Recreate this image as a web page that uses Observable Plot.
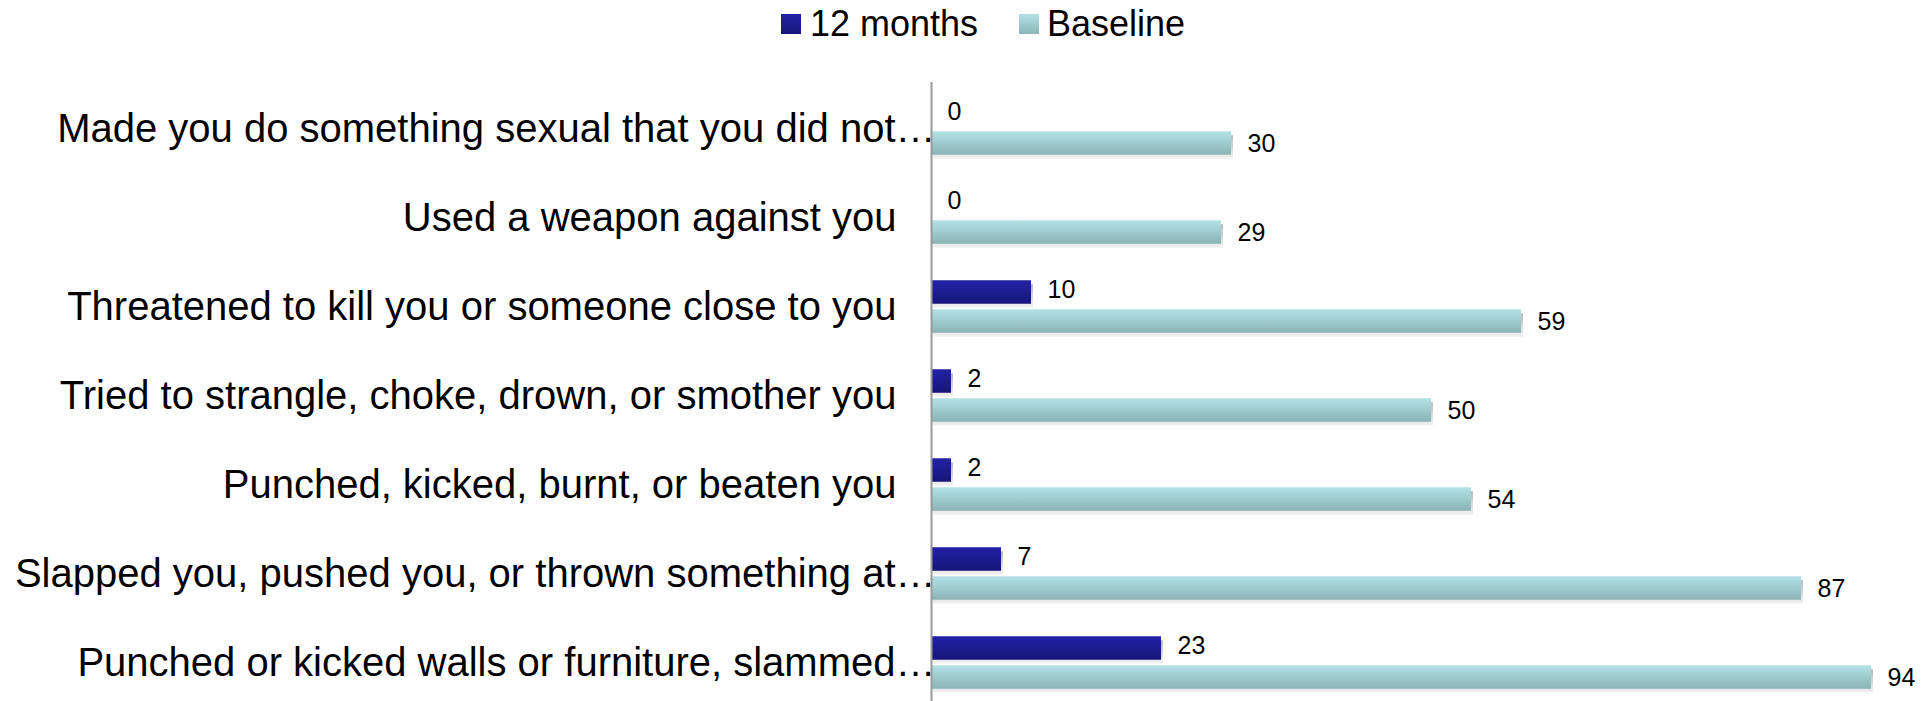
<!DOCTYPE html>
<html>
<head>
<meta charset="utf-8">
<script src="https://cdn.jsdelivr.net/npm/d3@7"></script>
<script src="https://cdn.jsdelivr.net/npm/@observablehq/plot@0.6"></script>
<style>
  html, body { margin: 0; padding: 0; background: #fff; }
  body { width: 1929px; height: 701px; overflow: hidden; font-family: "Liberation Sans", Arial, sans-serif; }
  #legend { height: 50px; position: relative; font-size: 36px; color: #000; }
  .sw { position: absolute; top: 14px; width: 20px; height: 20px; }
  .lt { position: absolute; top: 4px; line-height: 40px; white-space: nowrap; }
</style>
</head>
<body>
<div id="legend">
  <div class="sw" style="left:781px;background:linear-gradient(#2222a6,#16167c);"></div>
  <div class="lt" style="left:810px;">12 months</div>
  <div class="sw" style="left:1019px;background:linear-gradient(#b2e1e5,#8cb6b9);"></div>
  <div class="lt" style="left:1047px;">Baseline</div>
</div>
<div id="chart"></div>
<script>
const categories = [
  "Made you do something sexual that you did not…",
  "Used a weapon against you",
  "Threatened to kill you or someone close to you",
  "Tried to strangle, choke, drown, or smother you",
  "Punched, kicked, burnt, or beaten you",
  "Slapped you, pushed you, or thrown something at…",
  "Punched or kicked walls or furniture, slammed…"
];
const months12 = [0, 0, 10, 2, 2, 7, 23];
const baseline = [30, 29, 59, 50, 54, 87, 94];

const rows12 = categories.map((c, i) => ({category: c, value: months12[i]}));
const rowsBase = categories.map((c, i) => ({category: c, value: baseline[i]}));
const truncated = categories.filter(c => c.endsWith("…"));
const full = categories.filter(c => !c.endsWith("…"));

const DARK = "#1d1d91";
const TEAL = "#a0cdd1";

const chart = Plot.plot({
  width: 1929,
  height: 651,
  marginLeft: 931,
  marginRight: 0,
  marginTop: 32,
  marginBottom: 0,
  style: {fontFamily: "'Liberation Sans', Arial, sans-serif", background: "#fff"},
  x: {domain: [0, 100], range: [931, 1931], axis: null},
  y: {domain: categories, range: [31.75, 658.25], padding: 0, label: null},
  marks: [
    // shadows
    Plot.barX(rows12, {x: "value", y: "category", insetTop: 18.25, insetBottom: 47.25, dx: 2, dy: 4, fill: "#cfcfcf", filter: d => d.value > 0}),
    Plot.barX(rowsBase, {x: "value", y: "category", insetTop: 47.25, insetBottom: 18.25, dx: 2, dy: 4, fill: "#cfcfcf"}),
    // bars
    Plot.barX(rows12, {x: "value", y: "category", insetTop: 18.25, insetBottom: 47.25, fill: DARK}),
    Plot.barX(rowsBase, {x: "value", y: "category", insetTop: 47.25, insetBottom: 18.25, fill: TEAL}),
    // value labels
    Plot.text(rows12, {x: "value", y: "category", text: d => String(d.value), dx: 16, dy: -17.5, textAnchor: "start", fontSize: 25, fill: "#000"}),
    Plot.text(rowsBase, {x: "value", y: "category", text: d => String(d.value), dx: 16, dy: 14.5, textAnchor: "start", fontSize: 25, fill: "#000"}),
    // category axis
    Plot.axisY(full, {tickSize: 0, tickPadding: 35, fontSize: 40, fill: "#000", label: null}),
    Plot.axisY(truncated, {tickSize: 0, tickPadding: -4, fontSize: 40, fill: "#000", label: null}),
    Plot.ruleX([0], {stroke: "#999", strokeWidth: 2})
  ]
});

const svg = d3.select(chart);
const defs = svg.insert("defs", ":first-child");
const g1 = defs.append("linearGradient").attr("id", "gDark").attr("x1", 0).attr("y1", 0).attr("x2", 0).attr("y2", 1);
g1.append("stop").attr("offset", "0%").attr("stop-color", "#2222a6");
g1.append("stop").attr("offset", "100%").attr("stop-color", "#15157a");
const g2 = defs.append("linearGradient").attr("id", "gTeal").attr("x1", 0).attr("y1", 0).attr("x2", 0).attr("y2", 1);
g2.append("stop").attr("offset", "0%").attr("stop-color", "#b3e2e6");
g2.append("stop").attr("offset", "100%").attr("stop-color", "#8ab3b6");
const g3 = defs.append("linearGradient").attr("id", "gShadow").attr("x1", 0).attr("y1", 0).attr("x2", 0).attr("y2", 1);
g3.append("stop").attr("offset", "0%").attr("stop-color", "#b8b8b8");
g3.append("stop").attr("offset", "100%").attr("stop-color", "#f2f2f2");
svg.selectAll(`[fill="${DARK}"]`).attr("fill", "url(#gDark)");
svg.selectAll(`[fill="${TEAL}"]`).attr("fill", "url(#gTeal)");
svg.selectAll(`[fill="#cfcfcf"]`).attr("fill", "url(#gShadow)");

document.getElementById("chart").appendChild(chart);
</script>
</body>
</html>
